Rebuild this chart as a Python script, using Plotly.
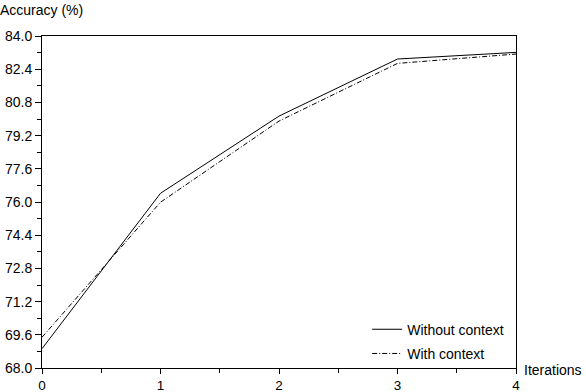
import plotly.graph_objects as go

iterations = [0, 1, 2, 3, 4]
without_context = [68.93, 76.42, 80.14, 82.89, 83.21]
with_context = [69.48, 75.99, 79.90, 82.68, 83.13]
y_ticks = [68.0, 69.6, 71.2, 72.8, 74.4, 76.0, 77.6, 79.2, 80.8, 82.4, 84.0]

font = dict(family="Liberation Sans, Arial, sans-serif", size=14, color="black")

fig = go.Figure()
fig.add_trace(go.Scatter(x=iterations, y=without_context, mode="lines", name="Without context",
                         legendgroup="a", line=dict(color="black", width=1)))
fig.add_trace(go.Scatter(x=iterations, y=with_context, mode="lines", name="With context",
                         legendgroup="b", line=dict(color="black", width=1, dash="5px,2px,1px,2px")))

fig.update_layout(
    width=586, height=392,
    margin=dict(l=42, r=70, t=36, b=24, autoexpand=False),
    paper_bgcolor="white", plot_bgcolor="white",
    font=font,
    showlegend=True,
    legend=dict(x=0.686, y=-0.005, xanchor="left", yanchor="bottom", bgcolor="rgba(0,0,0,0)",
                font=font, traceorder="grouped", tracegroupgap=3, itemwidth=30),
    xaxis=dict(range=[0, 4], tickvals=iterations, ticktext=[str(v) for v in iterations],
               showgrid=False, zeroline=False, showline=True, linecolor="black", linewidth=1,
               mirror=True, ticks="outside", ticklen=5, tickcolor="black", automargin=False,
               tickfont=dict(size=13.5),
               minor=dict(dtick=0.5, ticks="outside", ticklen=4, tickcolor="black", showgrid=False)),
    yaxis=dict(range=[68, 84], tickvals=y_ticks, ticktext=[f"{v:.1f}" for v in y_ticks],
               showgrid=False, zeroline=False, showline=True, linecolor="black", linewidth=1,
               mirror=True, ticks="outside", ticklen=6, tickcolor="black", automargin=False,
               minor=dict(dtick=0.8, tick0=68, ticks="outside", ticklen=4, tickcolor="black", showgrid=False)),
)

fig.add_annotation(text="Accuracy (%)", xref="paper", yref="paper", x=0, y=1, xanchor="left",
                   yanchor="bottom", showarrow=False, font=font, xshift=-44, yshift=16)
fig.add_annotation(text="Iterations", xref="paper", yref="paper", x=1, y=0, xanchor="left",
                   yanchor="middle", showarrow=False, font=font, xshift=6, yshift=-2)

fig.write_html("out.html", config={"displayModeBar": False},
               post_script="document.body.style.margin='0';document.body.style.overflow='hidden';")
